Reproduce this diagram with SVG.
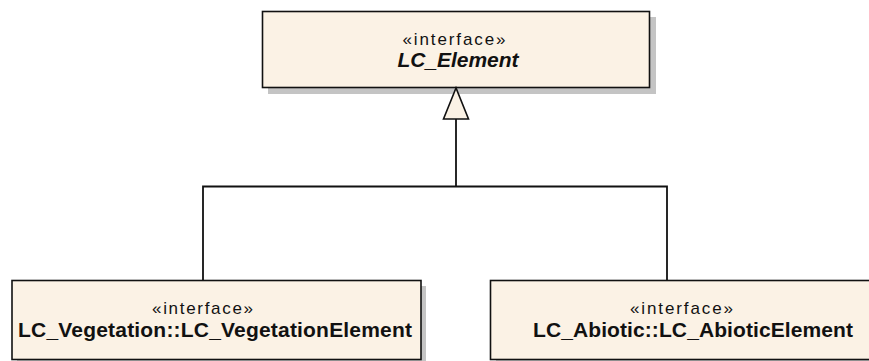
<svg xmlns="http://www.w3.org/2000/svg" width="869" height="361" viewBox="0 0 869 361">
<style>
.shadow{fill:#c4c4c4;stroke:none}
.box{fill:#fbf2e5;stroke:#111;stroke-width:1.6}
.st{font-family:"Liberation Sans",Arial,sans-serif;font-size:17px;fill:#111;text-anchor:middle}
.nm{font-family:"Liberation Sans",Arial,sans-serif;font-size:21px;font-weight:bold;fill:#111;text-anchor:middle}
.ln{fill:none;stroke:#111;stroke-width:1.8}
</style>
<rect width="869" height="361" fill="#fff"/>
<g id="LC_Element">
<rect class="shadow" x="268" y="17" width="388" height="77"/>
<rect class="box" x="262.5" y="11.5" width="387" height="76"/>
<text class="st" x="454" y="45" textLength="103" lengthAdjust="spacing">«interface»</text>
<text class="nm" x="458" y="66.5" font-style="italic" textLength="121" lengthAdjust="spacing">LC_Element</text>
</g>
<g id="LC_VegetationElement">
<rect class="shadow" x="17" y="286" width="409" height="80"/>
<rect class="box" x="12" y="280.5" width="409" height="79"/>
<text class="st" x="202.5" y="313.5" textLength="101" lengthAdjust="spacing">«interface»</text>
<text class="nm" x="215" y="336.5" textLength="394" lengthAdjust="spacing">LC_Vegetation::LC_VegetationElement</text>
</g>
<g id="LC_AbioticElement">
<rect class="shadow" x="496" y="286" width="420" height="80"/>
<rect class="box" x="490.5" y="280.5" width="420" height="79"/>
<text class="st" x="681.5" y="313.5" textLength="103" lengthAdjust="spacing">«interface»</text>
<text class="nm" x="693" y="336.5" textLength="320" lengthAdjust="spacing">LC_Abiotic::LC_AbioticElement</text>
</g>
<g id="connectors">
<polyline class="ln" points="203,280 203,186.5 667,186.5 667,280"/>
<line class="ln" x1="456" y1="186.5" x2="456" y2="119"/>
<polygon points="456,88 443.5,119 468.5,119" fill="#fbf2e5" stroke="#111" stroke-width="1.6"/>
</g>
</svg>
